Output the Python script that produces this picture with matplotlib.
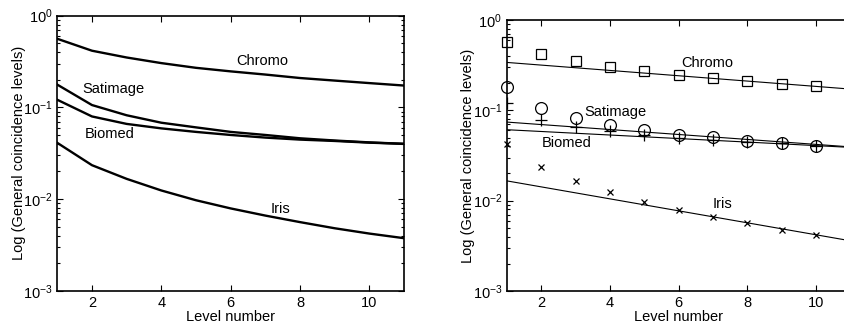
import matplotlib
matplotlib.use("Agg")
import matplotlib.pyplot as plt
import numpy as np
from matplotlib.ticker import LogLocator, FixedLocator

plt.rcParams['font.family'] = ['Liberation Sans', 'DejaVu Sans']
plt.rcParams['mathtext.default'] = 'regular'
plt.rcParams['font.size'] = 10.5

levels = [1, 2, 3, 4, 5, 6, 7, 8, 9, 10, 11]

# Left panel: curves
chromo = [0.56, 0.415, 0.35, 0.304, 0.27, 0.247, 0.228, 0.209, 0.196, 0.184, 0.173]
satimage = [0.177, 0.106, 0.082, 0.068, 0.0605, 0.054, 0.050, 0.046, 0.0435, 0.0415, 0.040]
biomed = [0.121, 0.0796, 0.066, 0.059, 0.054, 0.050, 0.0468, 0.0445, 0.043, 0.0412, 0.040]
iris = [0.041, 0.0234, 0.0166, 0.0124, 0.0097, 0.0079, 0.0066, 0.0056, 0.0048, 0.0042, 0.00374]

# Right panel: observed markers (levels 1..10)
mk_levels = [1, 2, 3, 4, 5, 6, 7, 8, 9, 10]
chromo_pts = [0.57, 0.42, 0.35, 0.30, 0.27, 0.247, 0.228, 0.212, 0.198, 0.186]
satimage_pts = [0.179, 0.107, 0.082, 0.068, 0.0605, 0.054, 0.0505, 0.046, 0.0437, 0.0405]
biomed_pts = [0.121, 0.079, 0.066, 0.059, 0.054, 0.050, 0.0464, 0.0445, 0.043, 0.0405]
iris_pts = [0.042, 0.0234, 0.0166, 0.0124, 0.00967, 0.00788, 0.00664, 0.00565, 0.00476, 0.00416]

# Right panel: fitted straight lines (log scale), endpoints at level 1 and 11
fit_x = [1, 11]
chromo_fit = [0.339, 0.172]
satimage_fit = [0.0741, 0.0394]
biomed_fit = [0.061, 0.0389]
iris_fit = [0.01655, 0.0036]

fig = plt.figure(figsize=(8.45, 3.29), dpi=100)
W, H = 845, 329
axL = fig.add_axes([57.3 / W, 1 - 290.7 / H, (404 - 57.3) / W, (290.7 - 15.7) / H])
axR = fig.add_axes([507 / W, 1 - 291 / H, (850.2 - 507) / W, (291 - 20) / H])

for ax in (axL, axR):
    ax.set_yscale('log')
    ax.set_xlim(1, 11)
    ax.set_ylim(1e-3, 1)
    ax.xaxis.set_major_locator(FixedLocator([2, 4, 6, 8, 10]))
    ax.yaxis.set_major_locator(LogLocator(base=10, numticks=10))
    ax.yaxis.set_minor_locator(LogLocator(base=10, subs=np.arange(2, 10), numticks=10))
    ax.tick_params(which='both', direction='in', top=True, right=True, labelsize=10.5, width=0.8)
    ax.tick_params(which='major', length=4)
    ax.tick_params(which='minor', length=2)
    for s in ax.spines.values():
        s.set_linewidth(1.2)
    ax.set_xlabel('Level number', fontsize=10.5, labelpad=0)
    ax.set_ylabel('Log (General coincidence levels)', fontsize=10.5, labelpad=-2)

# Left panel
for ys in (chromo, satimage, biomed, iris):
    axL.plot(levels, ys, color='black', lw=1.7)

axL.text(6.9, 0.32, 'Chromo', ha='center', va='center')
axL.text(2.61, 0.158, 'Satimage', ha='center', va='center')
axL.text(2.52, 0.0513, 'Biomed', ha='center', va='center')
axL.text(7.45, 0.00778, 'Iris', ha='center', va='center')

# Right panel
axR.plot(mk_levels, chromo_pts, ls='none', marker='s', ms=7, mfc='none', mec='black', mew=0.9, clip_on=False)
axR.plot(mk_levels, satimage_pts, ls='none', marker='o', ms=8.5, mfc='none', mec='black', mew=0.9, clip_on=False)
axR.plot(mk_levels, biomed_pts, ls='none', marker='+', ms=9, mec='black', mew=0.9)
axR.plot(mk_levels, iris_pts, ls='none', marker='x', ms=5, mec='black', mew=0.9, clip_on=False)
for ys in (chromo_fit, satimage_fit, biomed_fit, iris_fit):
    axR.plot(fit_x, ys, color='black', lw=0.8)

axR.text(6.83, 0.334, 'Chromo', ha='center', va='center')
axR.text(4.15, 0.0959, 'Satimage', ha='center', va='center')
axR.text(2.75, 0.0435, 'Biomed', ha='center', va='center')
axR.text(7.29, 0.00918, 'Iris', ha='center', va='center')

fig.savefig('out.png', dpi=100)
